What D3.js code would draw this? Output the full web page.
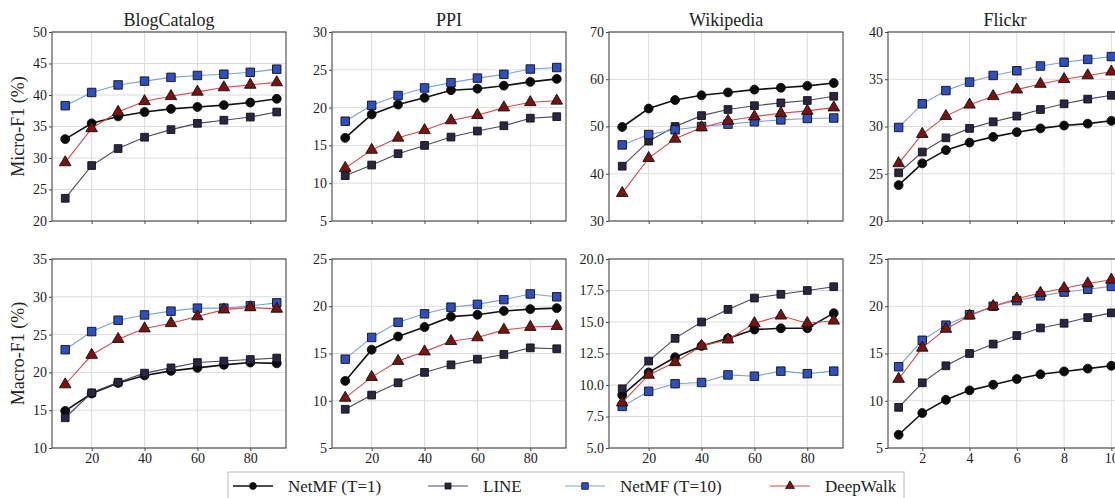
<!DOCTYPE html>
<html>
<head>
<meta charset="utf-8">
<script src="https://cdn.jsdelivr.net/npm/d3@7"></script>
<style>
  body { margin: 0; background: #fff; }
  text { font-family: "Liberation Serif", "Times New Roman", serif; fill: #222; }
</style>
</head>
<body>
<svg id="chart"></svg>
<script>
// Series, in legend order
const seriesNames = ["NetMF (T=1)", "LINE", "NetMF (T=10)", "DeepWalk"];
const titles = ["BlogCatalog", "PPI", "Wikipedia", "Flickr"];

// x values (labeled ratio, %) and Flickr's (1..10)
const ratios = [10, 20, 30, 40, 50, 60, 70, 80, 90];
const flickrRatios = [1, 2, 3, 4, 5, 6, 7, 8, 9, 10];
const ratioTicks = [20, 40, 60, 80];
const flickrTicks = [2, 4, 6, 8, 10];

// Micro-F1, each: [NetMF(T=1), LINE, NetMF(T=10), DeepWalk]
const blogMicro = [
  [33.0, 35.5, 36.6, 37.3, 37.8, 38.1, 38.4, 38.8, 39.4],
  [23.6, 28.8, 31.5, 33.3, 34.5, 35.5, 36.0, 36.5, 37.3],
  [38.3, 40.4, 41.6, 42.2, 42.8, 43.1, 43.3, 43.6, 44.1],
  [29.3, 34.7, 37.3, 39.0, 39.8, 40.5, 41.2, 41.6, 42.0]
];
const ppiMicro = [
  [16.0, 19.1, 20.4, 21.3, 22.3, 22.5, 22.9, 23.4, 23.8],
  [11.0, 12.4, 13.9, 15.0, 16.1, 16.9, 17.6, 18.6, 18.8],
  [18.2, 20.3, 21.6, 22.6, 23.3, 23.9, 24.4, 25.1, 25.3],
  [12.0, 14.4, 16.0, 17.0, 18.3, 19.0, 20.0, 20.7, 20.9]
];
const wikiMicro = [
  [49.9, 53.8, 55.6, 56.6, 57.2, 57.8, 58.2, 58.6, 59.2],
  [41.6, 46.9, 50.0, 52.3, 53.6, 54.4, 55.0, 55.5, 56.4],
  [46.1, 48.3, 49.3, 50.0, 50.5, 51.0, 51.4, 51.7, 51.8],
  [35.9, 43.3, 47.4, 49.8, 51.2, 52.1, 52.8, 53.3, 54.0]
];
const flickrMicro = [
  [23.8, 26.1, 27.5, 28.3, 28.9, 29.4, 29.8, 30.1, 30.3, 30.6],
  [25.1, 27.3, 28.8, 29.8, 30.5, 31.1, 31.8, 32.4, 32.9, 33.3],
  [29.9, 32.4, 33.8, 34.7, 35.4, 35.9, 36.4, 36.8, 37.1, 37.4],
  [26.1, 29.2, 31.1, 32.3, 33.2, 33.9, 34.5, 35.0, 35.4, 35.8]
];

// Macro-F1
const blogMacro = [
  [14.9, 17.2, 18.6, 19.6, 20.2, 20.6, 21.0, 21.3, 21.2],
  [14.0, 17.3, 18.7, 19.9, 20.6, 21.3, 21.5, 21.7, 21.9],
  [23.0, 25.4, 26.9, 27.6, 28.1, 28.5, 28.5, 28.8, 29.2],
  [18.4, 22.3, 24.4, 25.8, 26.5, 27.4, 28.3, 28.6, 28.4]
];
const ppiMacro = [
  [12.1, 15.4, 16.8, 17.8, 18.9, 19.1, 19.5, 19.7, 19.8],
  [9.1, 10.6, 11.9, 13.0, 13.8, 14.4, 14.9, 15.6, 15.5],
  [14.4, 16.7, 18.3, 19.2, 19.9, 20.2, 20.7, 21.3, 21.0],
  [10.3, 12.5, 14.2, 15.2, 16.3, 16.7, 17.5, 17.8, 17.9]
];
const wikiMacro = [
  [9.2, 11.0, 12.2, 13.1, 13.7, 14.4, 14.5, 14.5, 15.7],
  [9.7, 11.9, 13.7, 15.0, 16.0, 16.9, 17.2, 17.5, 17.8],
  [8.3, 9.5, 10.1, 10.2, 10.8, 10.7, 11.1, 10.9, 11.1],
  [8.6, 10.8, 11.8, 13.1, 13.6, 14.9, 15.5, 14.9, 15.1]
];
const flickrMacro = [
  [6.4, 8.7, 10.1, 11.1, 11.7, 12.3, 12.8, 13.1, 13.4, 13.7],
  [9.3, 11.9, 13.7, 15.0, 16.0, 16.9, 17.7, 18.2, 18.8, 19.3],
  [13.6, 16.4, 18.0, 19.1, 20.0, 20.6, 21.1, 21.5, 21.8, 22.1],
  [12.3, 15.6, 17.6, 19.0, 20.0, 20.8, 21.4, 21.9, 22.4, 22.8]
];

// y tick values per panel
const microTicks = [
  [20, 25, 30, 35, 40, 45, 50],
  [5, 10, 15, 20, 25, 30],
  [30, 40, 50, 60, 70],
  [20, 25, 30, 35, 40]
];
const macroTicks = [
  [10, 15, 20, 25, 30, 35],
  [5, 10, 15, 20, 25],
  [5.0, 7.5, 10.0, 12.5, 15.0, 17.5, 20.0],
  [5, 10, 15, 20, 25]
];

// styles
const styles = [
  { line: "#111", width: 1.6, symbol: d3.symbolCircle, size: 62, fill: "#0a0a0a" },
  { line: "#4a4a5e", width: 1.1, symbol: d3.symbolSquare, size: 60, fill: "#2a2640" },
  { line: "#7d9fd6", width: 1.1, symbol: d3.symbolSquare, size: 72, fill: "#2f4fc0" },
  { line: "#d24a4a", width: 1.1, symbol: d3.symbolTriangle, size: 58, fill: "#7a1212" }
];

const W = 1115, H = 498;
const svg = d3.select("#chart").attr("width", W).attr("height", H);

const colLeft = [52, 332, 609, 888];
const panelW = 234;
const rowTop = [32, 259];
const panelH = 189;

const rows = [
  { data: [blogMicro, ppiMicro, wikiMicro, flickrMicro], ticks: microTicks, label: "Micro-F1 (%)" },
  { data: [blogMacro, ppiMacro, wikiMacro, flickrMacro], ticks: macroTicks, label: "Macro-F1 (%)" }
];

rows.forEach((row, r) => {
  row.data.forEach((panel, c) => {
    const isFlickr = c === 3;
    const xs = isFlickr ? flickrRatios : ratios;
    const yt = row.ticks[c];
    const x = d3.scaleLinear()
      .domain(isFlickr ? [0.55, 10.45] : [5, 93.5])
      .range([0, panelW]);
    const y = d3.scaleLinear()
      .domain([yt[0], yt[yt.length - 1]])
      .range([panelH, 0]);

    const g = svg.append("g")
      .attr("transform", `translate(${colLeft[c]},${rowTop[r]})`);

    // grid
    const xt = isFlickr ? flickrTicks : ratioTicks;
    g.selectAll(".vg").data(xt).enter().append("line")
      .attr("x1", d => x(d)).attr("x2", d => x(d))
      .attr("y1", 0).attr("y2", panelH)
      .attr("stroke", "#dcdcdc").attr("stroke-width", 1);
    g.selectAll(".hg").data(yt).enter().append("line")
      .attr("x1", 0).attr("x2", panelW)
      .attr("y1", d => y(d)).attr("y2", d => y(d))
      .attr("stroke", "#dcdcdc").attr("stroke-width", 1);

    // y axis
    const fmt = (r === 1 && c === 2) ? d3.format(".1f") : d3.format("d");
    const ya = g.append("g")
      .call(d3.axisLeft(y).tickValues(yt).tickFormat(fmt).tickSize(3).tickPadding(2));
    ya.select(".domain").remove();
    ya.selectAll("line").attr("stroke", "#444");
    ya.selectAll("text").style("font-size", "14px")
      .style("font-family", "'Liberation Serif', serif").attr("fill", "#222");

    // x axis
    const xa = g.append("g")
      .attr("transform", `translate(0,${panelH})`)
      .call(d3.axisBottom(x).tickValues(xt).tickSize(3).tickPadding(2)
        .tickFormat(r === 1 ? d3.format("d") : ""));
    xa.select(".domain").remove();
    xa.selectAll("line").attr("stroke", "#444");
    xa.selectAll("text").style("font-size", "14px")
      .style("font-family", "'Liberation Serif', serif").attr("fill", "#222");

    // series
    panel.forEach((vals, s) => {
      const st = styles[s];
      const pts = vals.map((v, i) => [xs[i], v]);
      g.append("path")
        .datum(pts)
        .attr("fill", "none")
        .attr("stroke", st.line)
        .attr("stroke-width", st.width)
        .attr("d", d3.line().x(d => x(d[0])).y(d => y(d[1])));
      g.selectAll(".m" + s).data(pts).enter().append("path")
        .attr("transform", d => `translate(${x(d[0])},${y(d[1])})`)
        .attr("d", d3.symbol().type(st.symbol).size(st.size))
        .attr("fill", st.fill)
        .attr("stroke", "#111")
        .attr("stroke-width", 0.9);
    });

    // frame
    g.append("rect")
      .attr("width", panelW).attr("height", panelH)
      .attr("fill", "none").attr("stroke", "#555").attr("stroke-width", 1.2);

    if (r === 0) {
      g.append("text")
        .attr("x", panelW / 2).attr("y", -6)
        .attr("text-anchor", "middle")
        .style("font-size", "18px")
        .text(titles[c]);
    }
  });

  // row label
  svg.append("text")
    .attr("transform", `translate(24,${rowTop[r] + panelH / 2}) rotate(-90)`)
    .attr("text-anchor", "middle")
    .style("font-size", "18px")
    .text(row.label);
});

// legend
const legendX = [233, 428, 565, 770];
const lg = svg.append("g");
lg.append("rect")
  .attr("x", 228).attr("y", 472).attr("width", 676).attr("height", 40)
  .attr("fill", "#fff").attr("stroke", "#bbb").attr("stroke-width", 1);
seriesNames.forEach((name, s) => {
  const st = styles[s];
  const lx = legendX[s], ly = 486;
  lg.append("line")
    .attr("x1", lx).attr("x2", lx + 40).attr("y1", ly).attr("y2", ly)
    .attr("stroke", st.line).attr("stroke-width", st.width);
  lg.append("path")
    .attr("transform", `translate(${lx + 20},${ly})`)
    .attr("d", d3.symbol().type(st.symbol).size(st.size * 0.6))
    .attr("fill", st.fill).attr("stroke", "#111").attr("stroke-width", 0.8);
  lg.append("text")
    .attr("x", lx + 55).attr("y", ly + 5.5)
    .style("font-size", "17px")
    .text(name);
});
</script>
</body>
</html>
